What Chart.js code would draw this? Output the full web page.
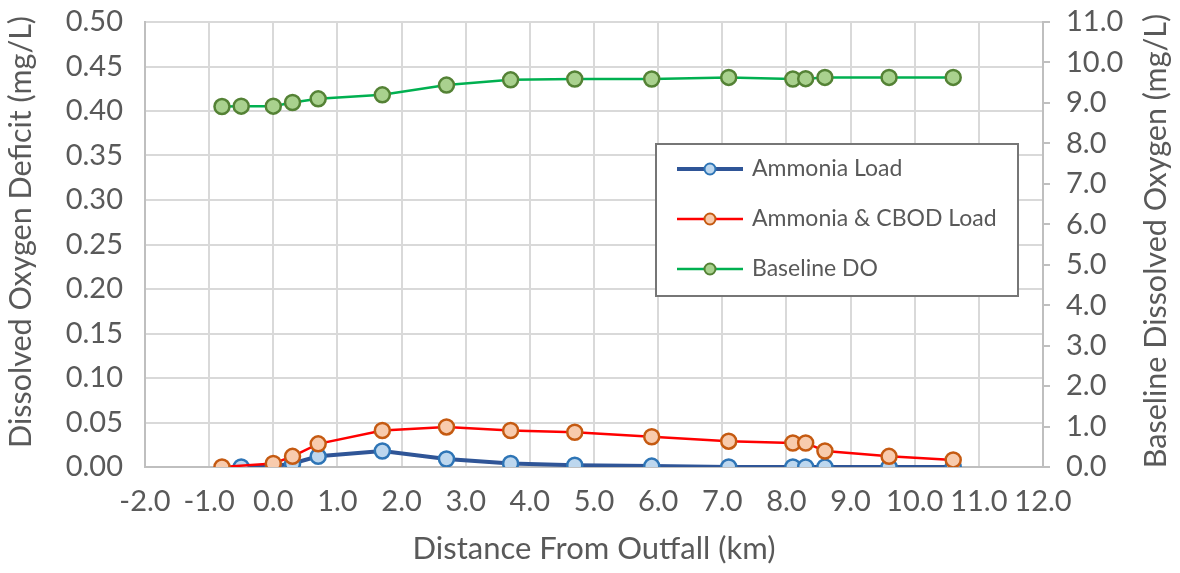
<!DOCTYPE html>
<html>
<head>
<meta charset="utf-8">
<script src="https://cdn.jsdelivr.net/npm/chart.js@4.4.1/dist/chart.umd.min.js"></script>
<style>
  html, body { margin: 0; padding: 0; background: #ffffff; }
  #wrap { position: relative; width: 1180px; height: 573px; }
  canvas { display: block; }
</style>
</head>
<body>
<div id="wrap"><canvas id="c" width="1180" height="573"></canvas></div>
<script>
// ---- Data ----
const xTickLabels = ['-2.0','-1.0','0.0','1.0','2.0','3.0','4.0','5.0','6.0','7.0','8.0','9.0','10.0','11.0','12.0'];

const distAmmonia = [-0.5, 0.0, 0.3, 0.7, 1.7, 2.7, 3.7, 4.7, 5.9, 7.1, 8.1, 8.3, 8.6, 9.6, 10.6];
const ammoniaLoad = [0.000, 0.001, 0.004, 0.012, 0.018, 0.009, 0.004, 0.002, 0.001, 0.000, 0.000, 0.000, 0.000, 0.000, 0.000];

const distCbod = [-0.8, 0.0, 0.3, 0.7, 1.7, 2.7, 3.7, 4.7, 5.9, 7.1, 8.1, 8.3, 8.6, 9.6, 10.6];
const ammoniaCbodLoad = [0.000, 0.004, 0.012, 0.026, 0.041, 0.045, 0.041, 0.039, 0.034, 0.029, 0.027, 0.027, 0.018, 0.012, 0.008];

const distBaseline = [-0.8, -0.5, 0.0, 0.3, 0.7, 1.7, 2.7, 3.7, 4.7, 5.9, 7.1, 8.1, 8.3, 8.6, 9.6, 10.6];
const baselineDO = [8.91, 8.92, 8.92, 9.01, 9.10, 9.20, 9.44, 9.57, 9.59, 9.59, 9.63, 9.59, 9.60, 9.63, 9.63, 9.63];

const seriesNames = ['Ammonia Load', 'Ammonia & CBOD Load', 'Baseline DO'];
const leftTitle = 'Dissolved Oxygen Deficit (mg/L)';
const rightTitle = 'Baseline Dissolved Oxygen (mg/L)';
const xTitle = 'Distance From Outfall (km)';

const toPts = (xs, ys) => xs.map((x, i) => ({ x: x, y: ys[i] }));

const FONT = 'Lato, "Open Sans", sans-serif';
const TXT = '#595959';
const GRID = '#d9d9d9';
const AXIS = '#bfbfbf';
const TICK_SIZE = 29;
const TITLE_SIZE = 31;
const VTITLE_SIZE = 30.5;

// Legend drawn inside the plot (like the reference)
const legendPlugin = {
  id: 'boxLegend',
  afterDraw(chart) {
    const ctx = chart.ctx;
    const bx = 656, by = 144, bw = 362, bh = 152;
    ctx.save();
    ctx.fillStyle = '#ffffff';
    ctx.fillRect(bx, by, bw, bh);
    ctx.lineWidth = 2;
    ctx.strokeStyle = '#767676';
    ctx.strokeRect(bx, by, bw, bh);
    const rows = [169, 219, 269];
    chart.data.datasets.forEach((ds, i) => {
      const y = rows[i];
      ctx.beginPath();
      ctx.moveTo(677, y);
      ctx.lineTo(743, y);
      ctx.lineWidth = ds.borderWidth;
      ctx.strokeStyle = ds.borderColor;
      ctx.stroke();
      ctx.beginPath();
      ctx.arc(710, y, 5.5, 0, Math.PI * 2);
      ctx.fillStyle = ds.pointBackgroundColor;
      ctx.fill();
      ctx.lineWidth = 2;
      ctx.strokeStyle = ds.pointBorderColor;
      ctx.stroke();
      ctx.fillStyle = TXT;
      ctx.font = '23px ' + FONT;
      ctx.textAlign = 'left';
      ctx.textBaseline = 'middle';
      ctx.fillText(ds.label, 752, y);
    });
    ctx.restore();
  }
};

// Vertical axis titles, both reading bottom-to-top (as in the reference)
const vTitlePlugin = {
  id: 'vTitles',
  afterDraw(chart) {
    const ctx = chart.ctx;
    const draw = (text, x, y) => {
      ctx.save();
      ctx.translate(x, y);
      ctx.rotate(-Math.PI / 2);
      ctx.fillStyle = TXT;
      ctx.font = VTITLE_SIZE + 'px ' + FONT;
      ctx.textAlign = 'center';
      ctx.textBaseline = 'middle';
      ctx.fillText(text, 0, 0);
      ctx.restore();
    };
    draw(leftTitle, 21, 232);
    draw(rightTitle, 1156, 241);
  }
};

new Chart(document.getElementById('c'), {
  type: 'line',
  data: {
    datasets: [
      {
        label: seriesNames[0],
        data: toPts(distAmmonia, ammoniaLoad),
        yAxisID: 'y',
        borderColor: '#2F5597',
        borderWidth: 4,
        pointBackgroundColor: '#BDD7EE',
        pointBorderColor: '#2E75B6',
        pointBorderWidth: 2.5,
        pointRadius: 7.5,
        order: 3,
        tension: 0
      },
      {
        label: seriesNames[1],
        data: toPts(distCbod, ammoniaCbodLoad),
        yAxisID: 'y',
        borderColor: '#FF0000',
        borderWidth: 2.5,
        pointBackgroundColor: '#F8CBAD',
        pointBorderColor: '#C55A11',
        pointBorderWidth: 2.5,
        pointRadius: 7.5,
        order: 2,
        tension: 0
      },
      {
        label: seriesNames[2],
        data: toPts(distBaseline, baselineDO),
        yAxisID: 'y2',
        borderColor: '#00B050',
        borderWidth: 2.5,
        pointBackgroundColor: '#A9D18E',
        pointBorderColor: '#548235',
        pointBorderWidth: 2.5,
        pointRadius: 7.5,
        order: 1,
        tension: 0
      }
    ]
  },
  options: {
    responsive: false,
    animation: false,
    events: [],
    layout: { padding: { top: 22, left: 0, right: 0, bottom: 0 } },
    plugins: { legend: { display: false }, tooltip: { enabled: false } },
    scales: {
      x: {
        type: 'linear',
        position: 'bottom',
        min: -2, max: 12,
        afterBuildTicks(s) { s.ticks = xTickLabels.map(t => ({ value: parseFloat(t) })); },
        ticks: {
          callback: (v, i) => xTickLabels[i],
          color: TXT, font: { family: FONT, size: TICK_SIZE }, padding: 17, maxRotation: 0, autoSkip: false
        },
        grid: { color: GRID, lineWidth: 2, drawTicks: false },
        border: { display: true, color: AXIS, width: 2 },
        title: { display: true, text: xTitle, color: TXT, font: { family: FONT, size: TITLE_SIZE }, padding: { top: 0, bottom: 5 } },
        afterFit(s) { s.height = 106; s.paddingLeft = 0; s.paddingRight = 0; }
      },
      y: {
        position: 'left',
        min: 0, max: 0.5,
        afterBuildTicks(s) { s.ticks = Array.from({ length: 11 }, (_, i) => ({ value: i * 0.05 })); },
        ticks: {
          callback: v => v.toFixed(2),
          color: TXT, font: { family: FONT, size: TICK_SIZE }, padding: 22
        },
        grid: { color: GRID, lineWidth: 2, drawTicks: false },
        border: { display: true, color: AXIS, width: 2 },
        afterFit(s) { s.width = 145; s.paddingTop = 0; s.paddingBottom = 0; }
      },
      y2: {
        position: 'right',
        min: 0, max: 11,
        afterBuildTicks(s) { s.ticks = Array.from({ length: 12 }, (_, i) => ({ value: i })); },
        ticks: {
          callback: v => v.toFixed(1),
          color: TXT, font: { family: FONT, size: TICK_SIZE }, padding: 16
        },
        grid: { drawOnChartArea: false, drawTicks: true, tickLength: 7, color: AXIS, lineWidth: 2 },
        border: { display: true, color: AXIS, width: 2 },
        afterFit(s) { s.width = 137; s.paddingTop = 0; s.paddingBottom = 0; }
      }
    }
  },
  plugins: [legendPlugin, vTitlePlugin]
});
</script>
</body>
</html>
